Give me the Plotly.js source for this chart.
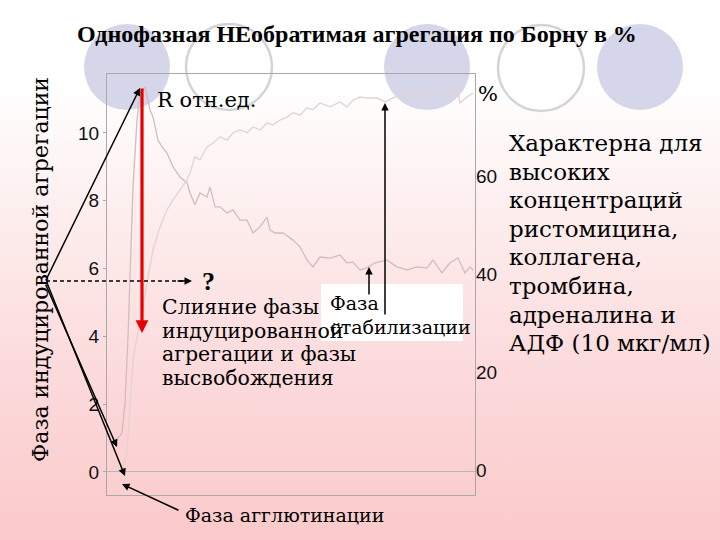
<!DOCTYPE html>
<html>
<head>
<meta charset="utf-8">
<script src="https://cdn.plot.ly/plotly-3.0.1.min.js"></script>
<style>
html,body{margin:0;padding:0;}
#chart{width:720px;height:540px;background:linear-gradient(to bottom,#ffffff 0%,#ffffff 15%,#fdeaea 45%,#fcd8da 72%,#fbcaca 100%);}
</style>
</head>
<body>
<div id="chart"></div>
<script>
// ---- data (time in arbitrary units) ----
const timeR = [8,12,15,18,21,23,26,30,33,38,43,46,51,55,60,66,73,80,83,88,93,100,103,108,113,120,126,133,140,146,153,160,163,168,176,186,193,200,206,213,223,233,240,246,253,260,268,280,290,300,310,320,326,335,343,351,358,363,366];
const valuesR = [0.94,1.03,1.15,2.04,3.98,5.96,8.41,10.38,11.18,11.36,10.68,10.47,9.79,9.59,9.41,9.00,8.70,8.53,8.23,7.88,8.23,8.11,8.41,7.82,7.82,7.64,7.73,7.43,7.43,7.05,7.23,7.52,7.14,7.05,7.05,6.84,6.64,6.25,6.05,6.34,6.31,6.40,6.17,6.19,5.96,6.02,6.17,6.25,6.05,5.96,6.05,6.02,6.25,5.87,6.17,6.31,5.87,6.05,5.96];
const timePct = [11,16,20,23,26,30,35,40,46,53,60,66,73,80,83,88,93,100,106,113,120,126,133,140,146,153,160,166,173,180,186,193,200,206,213,223,233,240,246,253,260,270,278,286,296,306,316,326,336,345,350,353,360,366];
const valuesPct = [0.0,0.4,3.5,13.7,22.4,27.1,32.0,38.2,44.9,49.6,53.1,55.1,57.1,59.2,60.6,63.9,63.3,65.9,66.7,68.0,67.3,68.8,69.4,68.8,70.0,69.4,70.8,70.4,71.4,72.0,72.9,72.4,73.9,73.5,74.9,74.1,75.1,74.1,75.5,76.1,75.9,75.9,75.1,75.9,76.9,76.1,77.6,76.5,77.6,76.9,78.2,74.9,76.1,76.9];
const leftTicks = [0,2,4,6,8,10];
const rightTicks = [0,20,40,60];

const titleText = 'Однофазная НЕобратимая агрегация по Борну в %';
const rLabel = 'R отн.ед.';
const pctLabel = '%';
const sideLabel = 'Фаза индуцированной агрегации';
const mergeLines = ['Слияние фазы','индуцированной','агрегации и фазы','высвобождения'];
const stabLines = ['Фаза','стабилизации'];
const noteLines = ['Характерна для','высоких','концентраций','ристомицина,','коллагена,','тромбина,','адреналина и','АДФ (10 мкг/мл)'];
const agglLabel = 'Фаза агглютинации';

// ---- geometry helpers (pixel -> paper) ----
const Lm=107, Rm=475, Tm=74, Bm=495, Wp=Rm-Lm, Hp=Bm-Tm;
const fx = p => (p-Lm)/Wp;
const fy = p => (Bm-p)/Hp;
const SERIF = 'DejaVu Serif';
const SERIF_B = 'Liberation Serif';
const SANS = 'Liberation Sans';

function build() {
  const traces = [
    {x: timeR, y: valuesR, type:'scatter', mode:'lines', yaxis:'y',
     line:{color:'#d0bcbe', width:1.3}, hoverinfo:'skip'},
    {x: timePct, y: valuesPct, type:'scatter', mode:'lines', yaxis:'y2',
     line:{color:'#e2d2d4', width:1.3}, hoverinfo:'skip'}
  ];
  const circles = [
    {cx:127, cy:67, r:43, fill:true},
    {cx:229, cy:67, r:43, fill:false},
    {cx:427, cy:67, r:43, fill:true},
    {cx:541, cy:68, r:43, fill:false},
    {cx:640, cy:67, r:43, fill:true}
  ];
  const shapes = circles.map(c => ({
    type:'circle', xref:'paper', yref:'paper', layer:'below',
    x0:fx(c.cx-c.r), x1:fx(c.cx+c.r), y0:fy(c.cy+c.r), y1:fy(c.cy-c.r),
    fillcolor: c.fill ? '#d6d6ea' : '#ffffff',
    line:{color: c.fill ? 'rgba(0,0,0,0)' : '#d4d4d8', width: c.fill ? 0 : 2.5}
  }));
  shapes.push({type:'rect', xref:'paper', yref:'paper', layer:'above',
    x0:fx(321), x1:fx(463), y0:fy(341), y1:fy(284),
    fillcolor:'#ffffff', line:{width:0}});
  shapes.push({type:'line', xref:'paper', yref:'paper',
    x0:fx(46), x1:fx(186), y0:fy(281), y1:fy(281),
    line:{color:'#000000', width:1.5, dash:'4px,3px'}});

  const ann = [];
  function addText(t, x, y, size, extra) {
    const a = {text:t, xref:'paper', yref:'paper', x:fx(x), y:fy(y),
      showarrow:false, xanchor:'left', yanchor:'middle',
      font:{family:SERIF, size:size, color:'#000000'}};
    ann.push(Object.assign(a, extra || {}));
  }
  function addArrow(x0, y0, x1, y1, color, width, size) {
    ann.push({text:'', xref:'paper', yref:'paper', x:fx(x1), y:fy(y1),
      ax:x0-x1, ay:y0-y1, showarrow:true, arrowhead:2, arrowsize:size||1,
      arrowwidth:width||1.5, arrowcolor:color||'#000000', standoff:0, startstandoff:0});
  }

  noteLines.forEach((s,i) => addText(s, 507, 143 + i*28.6, 23));
  addText(rLabel, 155, 100, 21);
  addText(pctLabel, 476, 94, 21);
  mergeLines.forEach((s,i) => addText(s, 160, 307 + i*23.7, 20.5));
  stabLines.forEach((s,i) => addText(s, 328, 303 + i*24, 19));
  addText(sideLabel, 40, 270, 22, {xanchor:'center', textangle:-90});
  addText(agglLabel, 183, 515, 19);
  addText('?', 200, 281, 26, {font:{family:SERIF_B, size:26, color:'#000000', weight:'bold'}});
  addText(titleText, 357, 34, 24, {xanchor:'center', font:{family:SERIF_B, size:24, color:'#000000', weight:'bold'}});

  addArrow(45, 282, 140, 88);
  addArrow(176, 281, 192, 281);
  addArrow(45, 283, 117, 447);
  addArrow(47, 283, 125, 476);
  addArrow(180, 511, 122, 484);
  addArrow(142, 87, 142, 333, '#e60000', 3.2, 0.8);
  addArrow(369, 296, 369, 267);
  addArrow(385, 316, 385, 103);

  const layout = {
    width:720, height:540,
    font:{family:SERIF},
    margin:{l:Lm, r:720-Rm, t:Tm, b:540-Bm, pad:0},
    paper_bgcolor:'rgba(0,0,0,0)', plot_bgcolor:'rgba(0,0,0,0)',
    showlegend:false,
    xaxis:{range:[0,368], showgrid:false, zeroline:false, showticklabels:false,
      showline:true, mirror:true, linecolor:'#a9a9ad', linewidth:1, ticks:''},
    yaxis:{range:[-0.68,11.74], tickvals:leftTicks, showgrid:false,
      zeroline:true, zerolinecolor:'#b8b8bc', zerolinewidth:1,
      showline:true, mirror:true, linecolor:'#a9a9ad', linewidth:1,
      ticks:'outside', ticklen:3, tickcolor:'#a9a9ad',
      tickfont:{family:SANS, size:19, color:'#111'}},
    yaxis2:{range:[-5.1,80.8], tickvals:rightTicks, overlaying:'y', side:'right',
      showgrid:false, zeroline:false, showline:false, ticks:'',
      tickfont:{family:SANS, size:19, color:'#111'}},
    shapes:shapes,
    annotations:ann
  };
  return {traces, layout};
}

const cfg = {staticPlot:true, displayModeBar:false};
let b = build();
Plotly.newPlot('chart', b.traces, b.layout, cfg);
if (document.fonts && document.fonts.ready) {
  document.fonts.ready.then(() => { const c = build(); Plotly.newPlot('chart', c.traces, c.layout, cfg); });
}
</script>
</body>
</html>
